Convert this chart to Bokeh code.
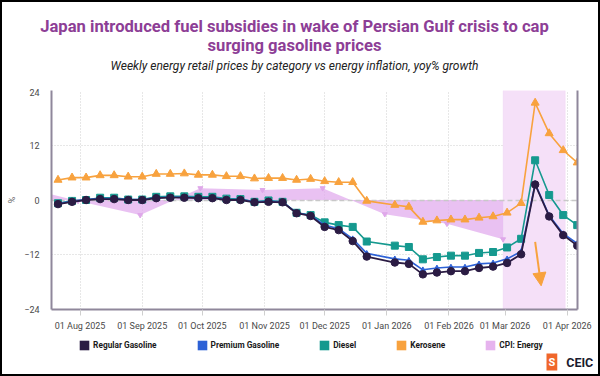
from datetime import datetime
from bokeh.plotting import figure
from bokeh.layouts import column
from bokeh.models import (Label, Legend, LegendItem, LinearAxis, FixedTicker,
                          DatetimeTickFormatter, BoxAnnotation, Arrow, NormalHead, Range1d)
from bokeh.embed import file_html
from bokeh.resources import INLINE

# ---------------- data ----------------
week_dates = ["2025-07-21", "2025-07-28", "2025-08-04", "2025-08-11", "2025-08-18", "2025-08-25",
              "2025-09-01", "2025-09-08", "2025-09-15", "2025-09-22", "2025-09-29",
              "2025-10-06", "2025-10-13", "2025-10-20", "2025-10-27",
              "2025-11-03", "2025-11-10", "2025-11-17", "2025-11-24",
              "2025-12-01", "2025-12-08", "2025-12-15", "2025-12-22",
              "2026-01-05", "2026-01-12", "2026-01-19", "2026-01-26",
              "2026-02-02", "2026-02-09", "2026-02-16", "2026-02-23",
              "2026-03-02", "2026-03-09", "2026-03-16", "2026-03-23", "2026-03-30", "2026-04-06"]
regular = [-0.9, -0.4, 0.0, 0.2, 0.2, 0.0, 0.0, 0.4, 0.5, 0.5, 0.4,
           0.4, 0.0, 0.0, -0.5, -0.4, -0.5, -2.9, -3.5,
           -5.9, -6.6, -9.0, -12.4, -13.7, -14.0, -16.3, -15.9,
           -15.6, -15.6, -14.9, -14.6, -13.8, -11.9, 3.4, -3.6, -7.7, -10.0]
premium = [-0.8, -0.3, 0.1, 0.3, 0.3, 0.1, 0.1, 0.5, 0.6, 0.6, 0.5,
           0.5, 0.1, 0.1, -0.4, -0.3, -0.4, -2.8, -3.4,
           -5.5, -6.3, -8.5, -11.7, -12.9, -13.2, -15.3, -14.9,
           -14.7, -14.7, -14.0, -13.8, -12.9, -11.3, 3.6, -3.4, -7.4, -9.5]
diesel = [-0.7, -0.2, 0.0, 0.5, 0.5, 0.1, 0.1, 0.7, 0.8, 0.8, 0.7,
          0.7, 0.3, 0.2, -0.4, -0.1, -0.4, -2.8, -3.3,
          -4.9, -5.5, -5.9, -9.1, -10.0, -10.3, -13.0, -12.5,
          -12.2, -12.2, -11.6, -11.4, -10.4, -8.5, 8.7, 1.1, -3.3, -5.5]
kerosene = [4.4, 4.9, 4.9, 5.4, 5.4, 5.1, 5.1, 5.7, 5.7, 5.8, 5.5,
            5.5, 5.2, 5.2, 4.7, 4.8, 4.8, 4.4, 4.6,
            4.1, 3.9, 3.9, -0.2, -1.1, -1.5, -4.8, -4.5,
            -4.3, -4.3, -3.9, -3.6, -2.8, -0.7, 21.3, 14.6, 10.9, 8.2]
cpi_dates = ["2025-06-30", "2025-07-31", "2025-08-31", "2025-09-30", "2025-10-31",
             "2025-11-30", "2025-12-31", "2026-01-31", "2026-02-28"]
cpi_energy = [3.2, -0.2, -3.3, 2.6, 2.2, 2.6, -3.1, -5.2, -8.6]

month_ticks = ["2025-08-01", "2025-09-01", "2025-10-01", "2025-11-01", "2025-12-01",
               "2026-01-01", "2026-02-01", "2026-03-01", "2026-04-01"]
y_ticks = [-24, -12, 0, 12, 24]
y_window = (-24, 24)
x_window = ("2025-07-17 18:00", "2026-04-06 03:00")
highlight_window = ("2026-02-28", "2026-03-31")
arrow_from = ("2026-03-16", -9.2)
arrow_to = ("2026-03-19", -18.8)
zero_level = [0]

series_names = ["Regular Gasoline", "Premium Gasoline", "Diesel", "Kerosene", "CPI: Energy"]
series_colors = ["#2b1c44", "#2d61d6", "#15998f", "#f8a23e", "#e6b3ee"]

TITLE_1 = "Japan introduced fuel subsidies in wake of Persian Gulf crisis to cap"
TITLE_2 = "surging gasoline prices"
SUBTITLE = "Weekly energy retail prices by category vs energy inflation, yoy% growth"
BRAND = "CEIC"


def ms(s):
    fmt = "%Y-%m-%d %H:%M" if " " in s else "%Y-%m-%d"
    return (datetime.strptime(s, fmt) - datetime(1970, 1, 1)).total_seconds() * 1000.0


wx = [ms(s) for s in week_dates]
cx = [ms(s) for s in cpi_dates]

FONT = "Roboto"
W = 596
HEAD_H = 86
MAIN_H = 249
FOOT_H = 372 - HEAD_H - MAIN_H


def blank(h):
    f = figure(width=W, height=h, x_range=Range1d(0, W), y_range=Range1d(h, 0),
               output_backend="svg", toolbar_location=None, min_border=0,
               x_axis_location=None, y_axis_location=None,
               background_fill_color="white", border_fill_color="white")
    f.grid.visible = False
    f.outline_line_color = None
    f.frame_align = False
    return f


# ---------------- header ----------------
head = blank(HEAD_H)
head.add_layout(Label(x=292, y=23.5, text=TITLE_1, text_align="center", text_baseline="alphabetic",
                      text_font=FONT, text_font_size="16.6px", text_font_style="bold",
                      text_color="#8d3e96"))
head.add_layout(Label(x=292, y=42.7, text=TITLE_2, text_align="center", text_baseline="alphabetic",
                      text_font=FONT, text_font_size="16.6px", text_font_style="bold",
                      text_color="#8d3e96"))
head.add_layout(Label(x=292, y=63, text=SUBTITLE, text_align="center", text_baseline="alphabetic",
                      text_font=FONT, text_font_size="12px", text_font_style="italic",
                      text_color="#222222"))

# ---------------- main chart ----------------
p = figure(width=W, height=MAIN_H, x_axis_type="datetime",
           x_range=Range1d(ms(x_window[0]), ms(x_window[1])),
           y_range=Range1d(*y_window),
           output_backend="svg", toolbar_location=None,
           min_border_left=49, min_border_right=21, min_border_top=2, min_border_bottom=28,
           background_fill_color="white", border_fill_color="white")
p.outline_line_color = None
p.frame_align = False

p.xaxis.ticker = FixedTicker(ticks=[ms(s) for s in month_ticks])
fmt = "%d %b %Y"
p.xaxis.formatter = DatetimeTickFormatter(milliseconds=fmt, seconds=fmt, minsec=fmt, minutes=fmt,
                                          hourmin=fmt, hours=fmt, days=fmt, months=fmt, years=fmt)
p.yaxis.ticker = FixedTicker(ticks=y_ticks)
for ax in (p.xaxis[0], p.yaxis[0]):
    ax.axis_line_color = "#8f879b"
    ax.axis_line_width = 2
    ax.minor_tick_line_color = None
    ax.major_label_text_font = FONT
    ax.major_label_text_font_size = "9px"
    ax.major_label_text_color = "#4a4a4a"
p.xaxis.major_tick_out = 6
p.xaxis.major_tick_in = 0
p.xaxis.major_tick_line_color = "#cfcfcf"
p.xaxis.major_label_standoff = 5
p.yaxis.major_tick_out = 0
p.yaxis.major_tick_in = 0
p.yaxis.major_tick_line_color = None
p.yaxis.major_label_standoff = 12
p.yaxis.axis_label = "%"
p.yaxis.axis_label_text_font = FONT
p.yaxis.axis_label_text_font_size = "9px"
p.yaxis.axis_label_text_font_style = "normal"
p.yaxis.axis_label_text_color = "#666666"
p.yaxis.axis_label_standoff = 4

right_axis = LinearAxis(ticker=FixedTicker(ticks=[]), axis_line_color="#8f879b", axis_line_width=2,
                        major_tick_line_color=None, minor_tick_line_color=None,
                        major_label_text_font_size="0px")
p.add_layout(right_axis, "right")

for g in (p.xgrid[0], p.ygrid[0]):
    g.grid_line_color = "#cfcfcf"
    g.grid_line_dash = "1 2"
    g.grid_line_width = 1
p.ygrid.ticker = FixedTicker(ticks=y_ticks)

band = BoxAnnotation(left=ms(highlight_window[0]), right=ms(highlight_window[1]),
                     fill_color="#f5e0f8", fill_alpha=1.0, line_color="#efcdf3", line_width=1,
                     level="underlay")
p.add_layout(band)

p.varea(x=cx, y1=0, y2=cpi_energy, fill_color="#e2aced", fill_alpha=0.75)
p.scatter(cx, cpi_energy, marker="inverted_triangle", size=5, fill_color="#dfa8ea",
          line_color="#dfa8ea")

p.hspan(y=zero_level, line_color="#c8c8c8", line_dash="5 3", line_width=1.5)

p.line(wx, kerosene, line_color=series_colors[3], line_width=1.6)
p.scatter(wx, kerosene, marker="triangle", size=8, fill_color=series_colors[3],
          line_color=series_colors[3])
p.line(wx, diesel, line_color=series_colors[2], line_width=1.6)
p.scatter(wx, diesel, marker="square", size=7, fill_color=series_colors[2],
          line_color=series_colors[2])
p.line(wx, premium, line_color=series_colors[1], line_width=1.6)
p.scatter(wx, premium, marker="triangle", size=5, fill_color=series_colors[1],
          line_color=series_colors[1])
p.line(wx, regular, line_color=series_colors[0], line_width=1.8)
p.scatter(wx, regular, marker="circle", size=7.5, fill_color=series_colors[0],
          line_color=series_colors[0])

p.add_layout(Arrow(end=NormalHead(size=13, fill_color=series_colors[3], line_color=series_colors[3]),
                   x_start=ms(arrow_from[0]), y_start=arrow_from[1],
                   x_end=ms(arrow_to[0]), y_end=arrow_to[1],
                   line_color=series_colors[3], line_width=2))

# ---------------- footer: legend + brand ----------------
foot = blank(FOOT_H)
items = []
for name, col in zip(series_names, series_colors):
    r = foot.quad(left=[-20], right=[-10], bottom=[-20], top=[-10], fill_color=col, line_color=None)
    items.append(LegendItem(label=name, renderers=[r]))
legend = Legend(items=items, orientation="horizontal", location=(76.1, 23.3),
                glyph_width=12, glyph_height=12, label_height=12, label_standoff=3,
                spacing=39, padding=0, margin=0, border_line_color=None,
                background_fill_alpha=0, label_text_font=FONT,
                label_text_font_size="8.3px", label_text_font_style="bold",
                label_text_color="#1a1a1a")
foot.add_layout(legend)
foot.add_layout(Label(x=544, y=24.5, text="S", text_align="left", text_baseline="middle",
                      text_font=FONT, text_font_size="11px", text_font_style="bold",
                      text_color="white", background_fill_color="#f0662a", padding=2))
foot.add_layout(Label(x=563.7, y=24.5, text=BRAND, text_align="left", text_baseline="middle",
                      text_font=FONT, text_font_size="12.5px", text_font_style="bold",
                      text_color="#1b1b2f"))

layout = column(head, p, foot, spacing=0)
layout.styles = {"border": "2px solid #000000"}

open("out.html", "w").write(file_html(layout, INLINE))
